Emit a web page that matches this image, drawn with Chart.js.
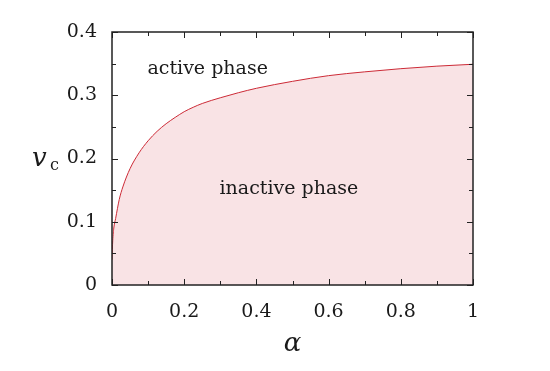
<!DOCTYPE html>
<html>
<head>
<meta charset="utf-8">
<script src="https://cdn.jsdelivr.net/npm/chart.js@4/dist/chart.umd.min.js"></script>
<style>
  html, body { margin: 0; padding: 0; background: #fff; }
  #wrap { width: 550px; height: 371px; }
</style>
</head>
<body>
<div id="wrap"><canvas id="phaseChart" width="550" height="371"></canvas></div>
<script>
// critical line v_c(alpha)
const alpha = [0, 0.002, 0.005, 0.01, 0.02, 0.03, 0.05, 0.075, 0.1, 0.125, 0.15, 0.175, 0.2, 0.225, 0.25, 0.3, 0.35, 0.4, 0.5, 0.6, 0.7, 0.8, 0.9, 1.0];
const vc = [0.04, 0.07, 0.09, 0.105, 0.135, 0.155, 0.184, 0.209, 0.228, 0.243, 0.255, 0.265, 0.274, 0.281, 0.287, 0.296, 0.304, 0.311, 0.322, 0.331, 0.337, 0.342, 0.346, 0.349];

const xTicks = [0, 0.2, 0.4, 0.6, 0.8, 1];
const yTicks = [0, 0.1, 0.2, 0.3, 0.4];

// phase labels: [text, alpha, v]
const phaseLabels = [
    ['active phase', 0.265, 0.342],
    ['inactive phase', 0.49, 0.152]
];

const serif = '"DejaVu Serif", "Liberation Serif", serif';

function isMajor(v, list) {
    return list.some(t => Math.abs(t - v) < 1e-6);
}

function fmt(v) {
    const r = Math.round(v * 10) / 10;
    return r === 0 ? '0' : (r === 1 ? '1' : r.toFixed(1));
}

// inward ticks on all four sides, phase labels, axis titles
const decorations = {
    id: 'decorations',
    afterDatasetsDraw(chart) {
        const ctx = chart.ctx;
        const area = chart.chartArea;
        const xs = chart.scales.x;
        const ys = chart.scales.y;

        ctx.save();
        ctx.strokeStyle = '#222';
        ctx.lineWidth = 1;
        ctx.beginPath();
        xs.ticks.forEach(t => {
            const px = Math.round(xs.getPixelForValue(t.value)) + 0.5;
            const len = isMajor(t.value, xTicks) ? 6 : 4;
            ctx.moveTo(px, area.bottom); ctx.lineTo(px, area.bottom - len);
            ctx.moveTo(px, area.top); ctx.lineTo(px, area.top + len);
        });
        ys.ticks.forEach(t => {
            const py = Math.round(ys.getPixelForValue(t.value)) + 0.5;
            const len = isMajor(t.value, yTicks) ? 6 : 4;
            ctx.moveTo(area.left, py); ctx.lineTo(area.left + len, py);
            ctx.moveTo(area.right, py); ctx.lineTo(area.right - len, py);
        });
        ctx.stroke();

        ctx.lineWidth = 1.5;
        ctx.strokeRect(area.left, area.top, area.right - area.left, area.bottom - area.top);

        ctx.fillStyle = '#1a1a1a';
        ctx.textAlign = 'center';
        ctx.textBaseline = 'middle';
        ctx.font = '19px ' + serif;
        phaseLabels.forEach(([txt, a, v]) => {
            ctx.fillText(txt, xs.getPixelForValue(a), ys.getPixelForValue(v));
        });

        // axis titles
        ctx.font = 'italic 26px ' + serif;
        ctx.fillText('α', (area.left + area.right) / 2, 344);
        ctx.textAlign = 'left';
        ctx.fillText('v', 32, 159);
        ctx.font = '16px ' + serif;
        ctx.fillText('c', 50, 166);
        ctx.restore();
    }
};

new Chart(document.getElementById('phaseChart'), {
    type: 'line',
    data: {
        datasets: [{
            data: alpha.map((a, i) => ({ x: a, y: vc[i] })),
            borderColor: '#cc2a36',
            borderWidth: 1,
            backgroundColor: 'rgb(249, 227, 229)',
            fill: 'origin',
            pointRadius: 0,
            cubicInterpolationMode: 'monotone'
        }]
    },
    options: {
        responsive: false,
        animation: false,
        layout: { padding: { left: 0, top: 32, right: 77, bottom: 46 } },
        plugins: { legend: { display: false }, tooltip: { enabled: false } },
        scales: {
            x: {
                type: 'linear',
                min: 0,
                max: 1,
                afterFit: s => { s.height = 40; },
                border: { display: false },
                grid: { display: false },
                ticks: {
                    stepSize: 0.1,
                    autoSkip: false,
                    maxRotation: 0,
                    padding: 8,
                    color: '#1a1a1a',
                    font: { family: serif, size: 19 },
                    callback: v => isMajor(v, xTicks) ? fmt(v) : ''
                }
            },
            y: {
                min: 0,
                max: 0.4,
                afterFit: s => { s.width = 112; },
                border: { display: false },
                grid: { display: false },
                ticks: {
                    stepSize: 0.05,
                    autoSkip: false,
                    padding: 7,
                    color: '#1a1a1a',
                    font: { family: serif, size: 19 },
                    callback: v => isMajor(v, yTicks) ? fmt(v) : ''
                }
            }
        }
    },
    plugins: [decorations]
});
</script>
</body>
</html>
